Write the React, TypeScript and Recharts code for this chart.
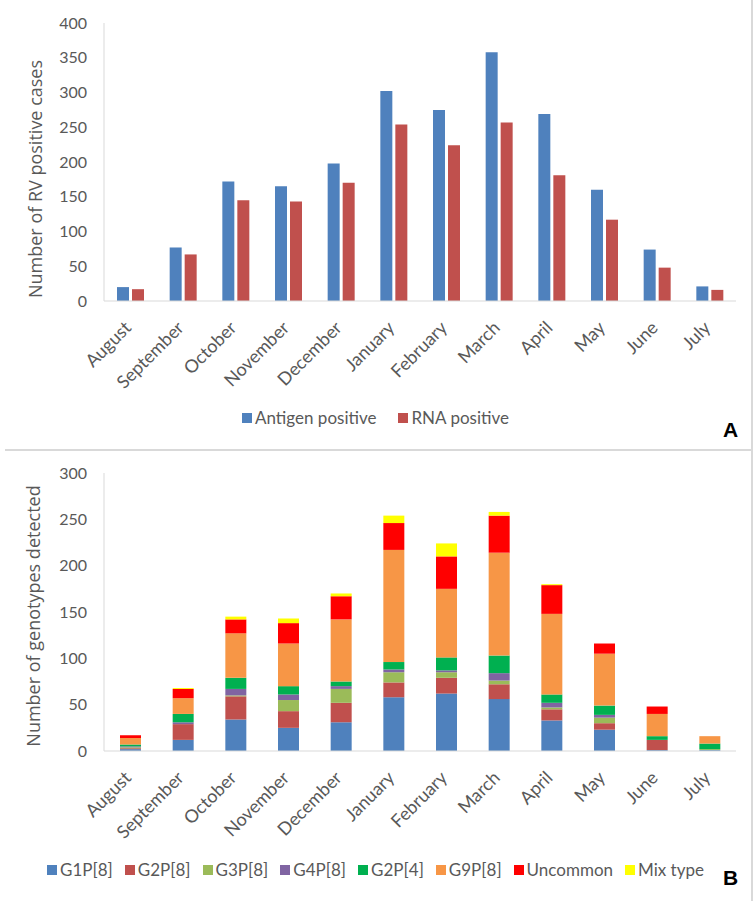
import { BarChart, Bar, XAxis, YAxis, Legend } from 'recharts'

const MONTHS = [
  'August', 'September', 'October', 'November', 'December', 'January',
  'February', 'March', 'April', 'May', 'June', 'July',
]

// panel A
const ANTIGEN = [20, 77, 172, 165, 198, 302, 275, 358, 269, 160, 74, 21]
const RNA = [17, 67, 145, 143, 170, 254, 224, 257, 181, 117, 48, 16]
const TICKS_A = [0, 50, 100, 150, 200, 250, 300, 350, 400]

// panel B, genotypes per month
const G1P8 = [2, 12, 34, 25, 31, 58, 62, 56, 33, 23, 1, 1]
const G2P8 = [1, 17, 25, 18, 21, 16, 17, 16, 12, 7, 11, 0]
const G3P8 = [1, 0, 1, 12, 15, 11, 6, 4, 2, 6, 0, 1]
const G4P8 = [1, 2, 7, 6, 3, 3, 2, 8, 5, 3, 0, 0]
const G2P4 = [2, 9, 12, 9, 5, 8, 14, 19, 9, 10, 4, 6]
const G9P8 = [7, 17, 48, 46, 67, 121, 74, 111, 87, 56, 24, 8]
const UNCOMMON = [3, 10, 15, 22, 25, 29, 35, 40, 31, 11, 8, 0]
const MIX = [0, 1, 3, 5, 3, 8, 14, 4, 1, 0, 0, 0]
const TICKS_B = [0, 50, 100, 150, 200, 250, 300]

const GENOTYPES = [
  { key: 'g1p8', label: 'G1P[8]', color: '#4f81bd', values: G1P8 },
  { key: 'g2p8', label: 'G2P[8]', color: '#c0504d', values: G2P8 },
  { key: 'g3p8', label: 'G3P[8]', color: '#9bbb59', values: G3P8 },
  { key: 'g4p8', label: 'G4P[8]', color: '#8064a2', values: G4P8 },
  { key: 'g2p4', label: 'G2P[4]', color: '#00b050', values: G2P4 },
  { key: 'g9p8', label: 'G9P[8]', color: '#f79646', values: G9P8 },
  { key: 'uncommon', label: 'Uncommon', color: '#ff0000', values: UNCOMMON },
  { key: 'mix', label: 'Mix type', color: '#ffff00', values: MIX },
]

const dataA = MONTHS.map((month, i) => ({ month, antigen: ANTIGEN[i], rna: RNA[i] }))
const dataB = MONTHS.map((month, i) => {
  const row: Record<string, string | number> = { month }
  GENOTYPES.forEach((g) => (row[g.key] = g.values[i]))
  return row
})

const TEXT = '#595959'
const AXIS = '#d9d9d9'
const FONT = 'Lato, "Open Sans", sans-serif'

// eslint-disable-next-line @typescript-eslint/no-explicit-any
function MonthTick({ x, y, payload }: any) {
  const tx = x + 2
  const ty = y + 20
  return (
    <text
      x={tx}
      y={ty}
      transform={`rotate(-45 ${tx} ${ty})`}
      textAnchor="end"
      fill={TEXT}
      fontSize={18}
      fontFamily={FONT}
    >
      {payload.value}
    </text>
  )
}

function axisTitle(text: string, cx: number, cy: number) {
  // eslint-disable-next-line @typescript-eslint/no-explicit-any
  return (_props: any) => (
    <text
      x={cx}
      y={cy}
      transform={`rotate(-90 ${cx} ${cy})`}
      textAnchor="middle"
      dominantBaseline="central"
      fill={TEXT}
      fontSize={18}
      fontFamily='"Open Sans", sans-serif'
    >
      {text}
    </text>
  )
}

function SquareLegend({ items, gap }: { items: { label: string; color: string }[]; gap: number }) {
  return (
    <div
      style={{
        display: 'flex',
        justifyContent: 'center',
        alignItems: 'center',
        gap,
        fontFamily: FONT,
        fontSize: 17,
        color: TEXT,
        lineHeight: '20px',
      }}
    >
      {items.map((it) => (
        <span key={it.label} style={{ display: 'flex', alignItems: 'center', gap: 3 }}>
          <span style={{ width: 10, height: 10, background: it.color, display: 'inline-block' }} />
          {it.label}
        </span>
      ))}
    </div>
  )
}

const panelLetter = {
  position: 'absolute' as const,
  left: 723,
  fontFamily: '"Liberation Sans", Arial, sans-serif',
  fontWeight: 700,
  fontSize: 21,
  color: '#000',
  lineHeight: '21px',
}

export default function App() {
  return (
    <div style={{ position: 'relative', width: 755, height: 901, background: '#fff', overflow: 'hidden' }}>
      <style>{'body{margin:0}'}</style>

      <div style={{ position: 'absolute', left: 0, top: 0 }}>
        <BarChart
          width={751}
          height={449}
          data={dataA}
          margin={{ top: 23, right: 15, bottom: 0, left: 0 }}
          barCategoryGap="25%"
          barGap={3}
        >
          <XAxis
            dataKey="month"
            height={148}
            interval={0}
            tickLine={false}
            axisLine={{ stroke: AXIS }}
            tick={<MonthTick />}
          />
          <YAxis
            width={104}
            domain={[0, 400]}
            ticks={TICKS_A}
            interval={0}
            tickLine={false}
            tickSize={0}
            tickMargin={17}
            axisLine={{ stroke: AXIS }}
            tick={{ fill: TEXT, fontSize: 16, fontFamily: FONT }}
            label={{ content: axisTitle('Number of RV positive cases', 35, 179) }}
          />
          <Legend
            verticalAlign="middle"
            wrapperStyle={{ top: 408, left: 0, width: 751 }}
            content={() => (
              <SquareLegend
                gap={22}
                items={[
                  { label: 'Antigen positive', color: '#4f81bd' },
                  { label: 'RNA positive', color: '#c0504d' },
                ]}
              />
            )}
          />
          <Bar dataKey="antigen" name="Antigen positive" fill="#4f81bd" barSize={12} isAnimationActive={false} />
          <Bar dataKey="rna" name="RNA positive" fill="#c0504d" barSize={12} isAnimationActive={false} />
        </BarChart>
      </div>
      <div style={{ ...panelLetter, top: 419 }}>A</div>

      <div style={{ position: 'absolute', left: 0, top: 452 }}>
        <BarChart
          width={751}
          height={449}
          data={dataB}
          margin={{ top: 21, right: 15, bottom: 0, left: 0 }}
        >
          <XAxis
            dataKey="month"
            height={150}
            interval={0}
            tickLine={false}
            axisLine={{ stroke: AXIS }}
            tick={<MonthTick />}
          />
          <YAxis
            width={104}
            domain={[0, 300]}
            ticks={TICKS_B}
            interval={0}
            tickLine={false}
            tickSize={0}
            tickMargin={17}
            axisLine={{ stroke: AXIS }}
            tick={{ fill: TEXT, fontSize: 16, fontFamily: FONT }}
            label={{ content: axisTitle('Number of genotypes detected', 33, 164) }}
          />
          <Legend
            verticalAlign="middle"
            wrapperStyle={{ top: 408, left: 0, width: 751 }}
            content={() => <SquareLegend gap={12} items={GENOTYPES} />}
          />
          {GENOTYPES.map((g) => (
            <Bar
              key={g.key}
              dataKey={g.key}
              name={g.label}
              stackId="a"
              fill={g.color}
              barSize={21}
              isAnimationActive={false}
            />
          ))}
        </BarChart>
      </div>
      <div style={{ ...panelLetter, top: 867 }}>B</div>

      <div style={{ position: 'absolute', left: 5, top: 449, width: 748, height: 2, background: AXIS }} />
      <div style={{ position: 'absolute', left: 751, top: 0, width: 2, height: 901, background: AXIS }} />
    </div>
  )
}
